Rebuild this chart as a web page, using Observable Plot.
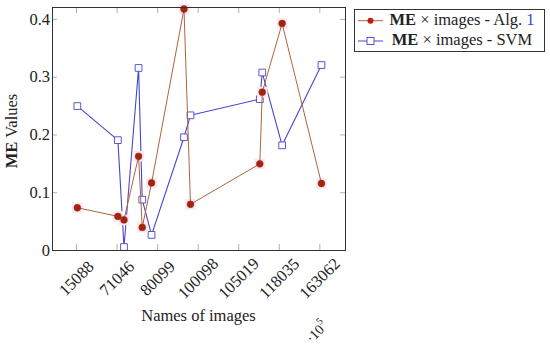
<!DOCTYPE html>
<html>
<head>
<meta charset="utf-8">
<script src="https://cdn.jsdelivr.net/npm/d3@7"></script>
<script src="https://cdn.jsdelivr.net/npm/@observablehq/plot@0.6"></script>
<style>
  html, body { margin: 0; padding: 0; background: #fff; }
  #chart { width: 550px; height: 347px; }
</style>
</head>
<body>
<div id="chart"></div>
<script>
// Tick positions (tick units) and their image-name labels
const xTickPos = [1, 2, 3, 4, 5, 6, 7];
const xTickLabels = ["15088", "71046", "80099", "100098", "105019", "118035", "163062"];
const yTicks = [0, 0.1, 0.2, 0.3, 0.4];

// Sample x positions (in tick units)
const xVals = [1.02, 2.02, 2.17, 2.53, 2.62, 2.85, 3.65, 3.81, 5.52, 5.58, 6.07, 7.04];
// ME values
const algVals = [0.074, 0.059, 0.053, 0.163, 0.040, 0.117, 0.418, 0.080, 0.150, 0.274, 0.393, 0.116];
const svmVals = [0.250, 0.191, 0.006, 0.316, 0.088, 0.027, 0.196, 0.234, 0.262, 0.308, 0.182, 0.321];

const alg = xVals.map((x, i) => ({x, y: algVals[i]}));
const svm = xVals.map((x, i) => ({x, y: svmVals[i]}));
const ticks = xTickPos.map((p, i) => ({p, label: xTickLabels[i]}));

const FONT = "'Liberation Serif', 'Times New Roman', serif";
const ALG_LINE = "#b0643c";
const ALG_FILL = "#a8200f";
const SVM = "#4646cc";
const TICK = "#b0b0b0";

const plot = Plot.plot({
  width: 550,
  height: 347,
  marginLeft: 52,
  marginRight: 205,
  marginTop: 7,
  marginBottom: 97,
  style: {fontFamily: FONT, fontSize: "16.5px", background: "#fff", color: "#222"},
  x: {domain: [0.407, 7.633], axis: null},
  y: {domain: [0, 0.4206], axis: null},
  marks: [
    // inward ticks (bottom/top/left/right)
    Plot.tickX(xTickPos, {x: d => d, insetTop: 237, stroke: TICK}),
    Plot.tickX(xTickPos, {x: d => d, insetBottom: 237, stroke: TICK}),
    Plot.tickY(yTicks, {y: d => d, insetRight: 288, stroke: TICK}),
    Plot.tickY(yTicks, {y: d => d, insetLeft: 288, stroke: TICK}),
    // y tick labels
    Plot.axisY({ticks: yTicks, tickSize: 0, tickPadding: 2.5, tickFormat: d => String(d), label: null, fontSize: 16.5, fill: "#222"}),
    // x tick labels (rotated names)
    Plot.text(ticks, {x: "p", text: "label", frameAnchor: "bottom", dy: 28, rotate: -45, textAnchor: "middle", lineAnchor: "middle", fontSize: 16.5, fill: "#222"}),
    // SVM series
    Plot.line(svm, {x: "x", y: "y", stroke: SVM, strokeWidth: 1.1}),
    Plot.dot(svm, {x: "x", y: "y", symbol: "square", r: 3.8, stroke: SVM, fill: "white", strokeWidth: 0.9}),
    // Alg. 1 series
    Plot.dot(alg, {x: "x", y: "y", symbol: "square", r: 6, fill: "#fce6f2", stroke: "none"}),
    Plot.line(alg, {x: "x", y: "y", stroke: ALG_LINE, strokeWidth: 1}),
    Plot.dot(alg, {x: "x", y: "y", r: 3.4, fill: ALG_FILL, stroke: "#8a3a18", strokeWidth: 0.6}),
    Plot.frame({stroke: "#333", strokeWidth: 1})
  ]
});

document.getElementById("chart").appendChild(plot);

const svg = d3.select(plot);

// Y axis title
const yt = svg.append("text")
  .attr("transform", "translate(13,131) rotate(-90)")
  .attr("text-anchor", "middle")
  .attr("dominant-baseline", "middle")
  .attr("font-family", FONT).attr("font-size", 16.5).attr("fill", "#222");
yt.append("tspan").attr("font-weight", "bold").text("ME");
yt.append("tspan").text(" Values");

// X axis title
svg.append("text")
  .attr("x", 198.5).attr("y", 321)
  .attr("text-anchor", "middle")
  .attr("font-family", FONT).attr("font-size", 16.5).attr("fill", "#222")
  .text("Names of images");

// scale note
const sc = svg.append("text")
  .attr("transform", "translate(318,333) rotate(-45)")
  .attr("text-anchor", "middle")
  .attr("dominant-baseline", "middle")
  .attr("font-family", FONT).attr("font-size", 14).attr("fill", "#222");
sc.append("tspan").text("·10");
sc.append("tspan").attr("font-size", 10).attr("dy", -6).text("5");

// Legend
const lg = svg.append("g").attr("font-family", FONT).attr("font-size", 16.5).attr("fill", "#222");
lg.append("rect").attr("x", 354.5).attr("y", 9.5).attr("width", 190).attr("height", 42)
  .attr("fill", "white").attr("stroke", "#333").attr("stroke-width", 1);
// row 1
lg.append("line").attr("x1", 358).attr("x2", 383).attr("y1", 20.7).attr("y2", 20.7).attr("stroke", ALG_LINE);
lg.append("circle").attr("cx", 370.5).attr("cy", 20.7).attr("r", 3).attr("fill", "#c81a10");
const t1 = lg.append("text").attr("x", 462).attr("y", 20.7).attr("text-anchor", "middle").attr("dominant-baseline", "middle");
t1.append("tspan").attr("font-weight", "bold").text("ME");
t1.append("tspan").text(" × images - Alg. ");
t1.append("tspan").attr("fill", "#2a4fc8").text("1");
// row 2
lg.append("line").attr("x1", 358).attr("x2", 383).attr("y1", 41).attr("y2", 41).attr("stroke", SVM);
lg.append("rect").attr("x", 367).attr("y", 37.5).attr("width", 7).attr("height", 7).attr("fill", "white").attr("stroke", SVM).attr("stroke-width", 0.9);
const t2 = lg.append("text").attr("x", 462).attr("y", 41).attr("text-anchor", "middle").attr("dominant-baseline", "middle");
t2.append("tspan").attr("font-weight", "bold").text("ME");
t2.append("tspan").text(" × images - SVM");
</script>
</body>
</html>
